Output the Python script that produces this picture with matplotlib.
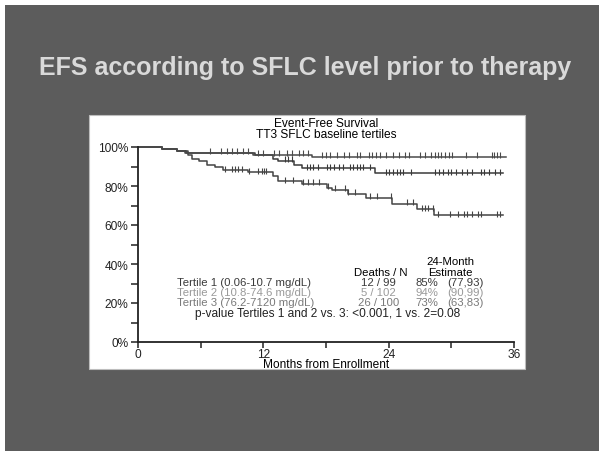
import numpy as np
import matplotlib
matplotlib.use("Agg")
import matplotlib.pyplot as plt
from matplotlib.patches import Rectangle

plt.rcParams['font.family'] = ['Liberation Sans', 'DejaVu Sans']

# Kaplan-Meier steps (months, % event-free)
t1_times = [0, 2.3, 3.7, 4.6, 11.2, 12.9, 13.4, 14.9, 15.7, 22.7]
t1_surv = [100, 99, 98, 97, 96, 94, 93, 91, 89, 86.5]
t1_end = 34.9
t1_cens = [14.1, 14.4, 14.7, 16.2, 16.5, 16.8, 17.2, 18.1, 18.4, 18.8, 19.2, 19.6,
           20.3, 20.6, 21.0, 21.3, 21.5, 22.2, 23.7, 24.0, 24.4, 24.8, 25.1, 25.4,
           26.1, 28.4, 28.8, 29.2, 29.7, 30.0, 30.4, 31.0, 31.5, 32.0, 32.8, 33.1,
           33.6, 34.2, 34.7]

t2_times = [0, 2.3, 3.7, 4.5, 11.0, 16.7]
t2_surv = [100, 99, 98, 97, 96, 95]
t2_end = 35.2
t2_cens = [6.9, 7.9, 8.5, 9.0, 9.5, 10.1, 10.5, 11.5, 12.0, 13.0, 13.5, 14.3,
           14.7, 15.4, 15.8, 16.3, 17.6, 18.0, 18.4, 19.1, 19.7, 20.2, 21.0, 21.3,
           22.1, 22.4, 22.8, 23.2, 23.7, 24.4, 25.0, 25.6, 25.9, 27.0, 27.5, 28.1,
           28.4, 28.7, 29.0, 29.4, 29.8, 30.1, 31.4, 32.5, 33.9, 34.1, 34.4, 34.7]

t3_times = [0, 2.3, 3.7, 4.8, 5.2, 5.8, 6.6, 7.4, 8.1, 10.5, 12.9, 13.4, 15.7,
            18.1, 18.6, 20.1, 21.8, 24.3, 26.7, 28.3]
t3_surv = [100, 99, 98, 96, 94, 93, 91, 90, 88, 87, 85, 82.5, 81, 79, 78, 76, 74,
           71, 68, 65]
t3_end = 34.9
t3_cens = [8.3, 9.0, 9.3, 9.6, 10.0, 10.6, 11.5, 11.9, 12.1, 12.3, 14.1, 14.8,
           15.8, 16.3, 16.8, 17.3, 18.2, 18.9, 19.8, 20.1, 20.8, 22.2, 22.9, 24.2,
           25.8, 26.3, 27.2, 27.5, 27.8, 28.2, 28.7, 29.9, 30.6, 31.2, 31.5, 32.0,
           32.6, 32.8, 34.4, 34.7]

groups = ["Tertile 1 (0.06-10.7 mg/dL)", "Tertile 2 (10.8-74.6 mg/dL)",
          "Tertile 3 (76.2-7120 mg/dL)"]
deaths = ["12 / 99", "5 / 102", "26 / 100"]
est = ["85%", "94%", "73%"]
ci = ["(77,93)", "(90,99)", "(63,83)"]
text_colors = ["#3a3a3a", "#9a9a9a", "#7a7a7a"]

W, H = 599, 452
fig = plt.figure(figsize=(W / 100, H / 100), dpi=100, facecolor="white")

# slide background and white panel
fig.patches.append(Rectangle((5 / W, 0), 1, 1 - 6 / H, transform=fig.transFigure,
                             facecolor="#5c5c5c", edgecolor="none", zorder=0))
fig.patches.append(Rectangle((89 / W, 1 - 370 / H), 436 / W, 254 / H,
                             transform=fig.transFigure, facecolor="white",
                             edgecolor="#bdbdbd", lw=0.8, zorder=1))
fig.text(305 / W, 1 - 68 / H, "EFS according to SFLC level prior to therapy",
         color="#d9d9d9", fontsize=18, fontweight="bold", ha="center", va="center")

ax = fig.add_axes([138 / W, 1 - 343 / H, 376 / W, 195 / H])
ax.set_zorder(5)
ax.patch.set_alpha(0)

def km(times, surv, end, cens, color):
    x = list(times) + [end]
    y = list(surv) + [surv[-1]]
    ax.step(x, y, where="post", color=color, lw=1.1, clip_on=False)
    idx = np.searchsorted(times, cens, side="right") - 1
    cy = np.array(surv)[idx]
    ax.plot(cens, cy + 0.8, ls="none", marker="|", ms=4.5, mew=0.8, color=color,
            clip_on=False)

km(t3_times, t3_surv, t3_end, t3_cens, "#444444")
km(t1_times, t1_surv, t1_end, t1_cens, "#3a3a3a")
km(t2_times, t2_surv, t2_end, t2_cens, "#4a4a4a")

ax.set_xlim(0, 36)
ax.set_ylim(0, 100)
for s in ["top", "right"]:
    ax.spines[s].set_visible(False)
for s in ["left", "bottom"]:
    ax.spines[s].set_linewidth(1.3)
    ax.spines[s].set_color("#222222")
ax.set_yticks([0, 20, 40, 60, 80, 100])
ax.set_yticklabels(["0%", "20%", "40%", "60%", "80%", "100%"])
ax.set_yticks([10, 30, 50, 70, 90], minor=True)
ax.set_xticks([0, 12, 24, 36])
ax.set_xticks([6, 18, 30], minor=True)
ax.tick_params(axis="y", which="both", direction="out", length=5, width=1.1,
               labelsize=8.6, pad=2, colors="#222222")
ax.tick_params(axis="x", which="both", direction="out", length=4, width=1.1,
               labelsize=8.6, pad=0.5, colors="#222222")

fs = 8.6
fs_tab = 8.2
ax.text(18.0, 112.3, "Event-Free Survival", ha="center", va="center", fontsize=fs)
ax.text(18.0, 106.7, "TT3 SFLC baseline tertiles", ha="center", va="center",
        fontsize=fs)
ax.text(18.0, -11.5, "Months from Enrollment", ha="center", va="center",
        fontsize=fs)

ax.text(23.2, 35.9, "Deaths / N", ha="center", va="center", fontsize=fs_tab)
ax.text(29.9, 41.5, "24-Month", ha="center", va="center", fontsize=fs_tab)
ax.text(29.9, 35.9, "Estimate", ha="center", va="center", fontsize=fs_tab)
for i in range(3):
    yy = 30.8 - 5.1 * i
    c = text_colors[i]
    ax.text(3.74, yy, groups[i], ha="left", va="center", fontsize=fs_tab, color=c)
    ax.text(23.0, yy, deaths[i], ha="center", va="center", fontsize=fs_tab, color=c)
    ax.text(26.6, yy, est[i], ha="left", va="center", fontsize=fs_tab, color=c)
    ax.text(29.6, yy, ci[i], ha="left", va="center", fontsize=fs_tab, color=c)
ax.text(5.47, 14.9, "p-value Tertiles 1 and 2 vs. 3: <0.001, 1 vs. 2=0.08",
        ha="left", va="center", fontsize=8.6, color="#222222")

fig.savefig("out.png", dpi=100, facecolor=fig.get_facecolor())
